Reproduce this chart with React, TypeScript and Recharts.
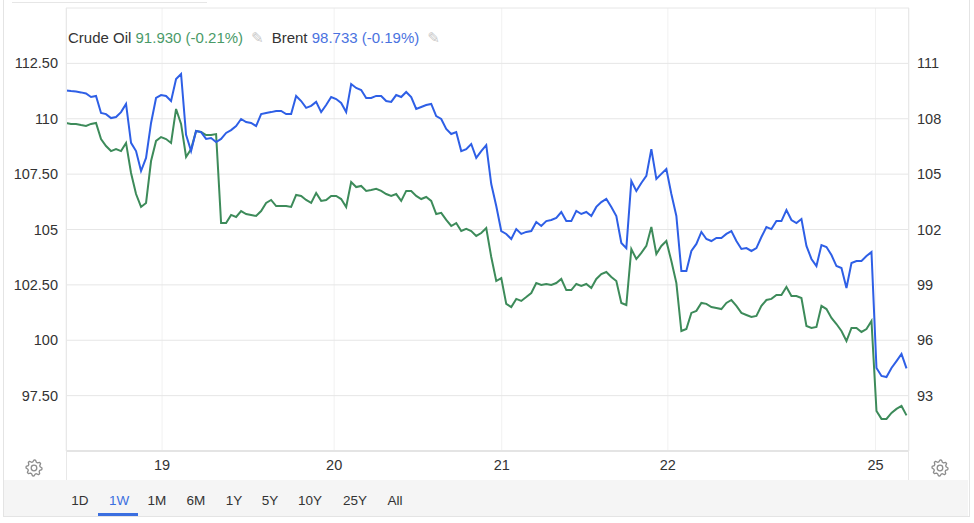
import { LineChart, Line, XAxis, YAxis, CartesianGrid } from "recharts";

// Brent (left axis) and Crude Oil (right axis), one value per ~42 min step
const brent = [
  111.28, 111.25, 111.23, 111.19, 111.14, 110.98, 111.03, 110.26, 110.21, 110.03,
  110.08, 110.3, 110.67, 108.91, 108.54, 107.64, 108.23, 109.81, 110.94, 111.07,
  111.03, 110.8, 111.79, 112.02, 109.27, 108.54, 109.45, 109.4, 109.09, 109.13,
  108.95, 109.09, 109.36, 109.49, 109.67, 109.99, 109.85, 109.81, 109.67, 110.21,
  110.26, 110.3, 110.35, 110.35, 110.21, 110.21, 111.03, 110.8, 110.49, 110.58,
  110.76, 110.3, 110.62, 110.98, 110.89, 110.71, 110.3, 111.57, 111.39, 111.3,
  110.94, 110.94, 111.03, 111.03, 110.8, 110.76, 111.07, 110.98, 111.21, 110.98,
  110.44, 110.53, 110.62, 110.67, 110.12, 109.99, 109.54, 109.31, 109.4, 108.54,
  108.63, 108.86, 108.23, 108.54, 108.81, 107.05, 106.06, 104.93, 104.8, 104.57,
  105.02, 104.8, 104.89, 104.93, 105.34, 105.16, 105.38, 105.43, 105.52, 105.79,
  105.38, 105.38, 105.84, 105.7, 105.79, 105.61, 106.02, 106.24, 106.38, 106.02,
  105.61, 104.39, 104.16, 107.19, 106.74, 107.1, 107.42, 108.63, 107.28, 107.51,
  107.73, 106.6, 105.61, 103.13, 103.13, 104.03, 104.35, 104.89, 104.57, 104.48,
  104.62, 104.62, 104.8, 104.93, 104.48, 104.12, 104.16, 104.03, 104.16, 104.66,
  105.11, 105.02, 105.38, 105.38, 105.88, 105.43, 105.29, 105.47, 104.26, 103.67,
  103.35, 104.3, 104.21, 103.85, 103.35, 103.26, 102.36, 103.49, 103.58, 103.58,
  103.8, 103.98, 98.75, 98.39, 98.34, 98.75, 99.06, 99.38, 98.73,
];

const crude = [
  107.77, 107.72, 107.72, 107.66, 107.61, 107.72, 107.77, 106.9, 106.52, 106.25,
  106.36, 106.25, 106.69, 105.06, 103.92, 103.22, 103.44, 105.71, 106.8, 107.01,
  106.9, 106.69, 108.53, 107.72, 105.93, 106.36, 107.34, 107.28, 107.12, 107.12,
  107.17, 102.35, 102.35, 102.79, 102.68, 103.0, 102.84, 102.79, 102.73, 103.0,
  103.44, 103.6, 103.27, 103.27, 103.27, 103.22, 103.87, 103.82, 103.6, 103.44,
  103.98, 103.55, 103.6, 103.82, 103.82, 103.65, 103.22, 104.57, 104.3, 104.36,
  104.09, 104.14, 104.2, 104.09, 103.92, 103.82, 103.92, 103.55, 104.09, 104.09,
  103.82, 103.65, 103.76, 103.55, 102.84, 102.9, 102.52, 102.19, 102.35, 101.92,
  102.03, 101.92, 101.65, 101.81, 102.08, 100.51, 99.21, 99.37, 97.97, 97.8,
  98.24, 98.13, 98.34, 98.56, 99.1, 99.0, 99.05, 99.0, 99.1, 99.32,
  98.72, 98.72, 99.05, 98.94, 99.05, 98.83, 99.32, 99.59, 99.7, 99.43,
  99.21, 98.02, 97.91, 100.94, 100.4, 100.73, 101.11, 102.14, 100.67, 101.11,
  101.38, 100.29, 99.1, 96.5, 96.61, 97.48, 97.59, 98.02, 97.97, 97.8,
  97.75, 97.69, 98.02, 98.18, 97.86, 97.48, 97.37, 97.26, 97.32, 97.86,
  98.18, 98.24, 98.45, 98.45, 98.89, 98.4, 98.4, 98.29, 96.77, 96.67,
  96.72, 97.86, 97.69, 97.21, 96.88, 96.5, 95.96, 96.67, 96.67, 96.45,
  96.61, 97.04, 92.17, 91.74, 91.74, 92.06, 92.28, 92.44, 91.93,
];

// day boundaries (in steps) and their labels
const dayTicks = [19.2, 53.6, 87.1, 120.3, 161.8];
const dayLabels = ["19", "20", "21", "22", "25"];
const brentTicks = [97.5, 100, 102.5, 105, 107.5, 110, 112.5];
const crudeTicks = [93, 96, 99, 102, 105, 108, 111];
const ranges = ["1D", "1W", "1M", "6M", "1Y", "5Y", "10Y", "25Y", "All"];
const rangeX = [80, 119, 157, 196, 234, 270, 310, 355, 395];

const BLUE = "#2e5fe6";
const GREEN = "#3d8b5a";
const FONT = "'Liberation Sans', Arial, sans-serif";

const data = brent.map((b, i) => ({ i, brent: b, crude: crude[i] }));

function fmtLeft(v: number) {
  return Number.isInteger(v) ? String(v) : v.toFixed(2);
}

function LeftTick({ y, payload }: any) {
  return (
    <text x={58} y={y} textAnchor="end" dominantBaseline="central" fontSize={14.5} fill="#333" fontFamily={FONT}>
      {fmtLeft(payload.value)}
    </text>
  );
}

function RightTick({ y, payload }: any) {
  return (
    <text x={917} y={y} textAnchor="start" dominantBaseline="central" fontSize={14.5} fill="#333" fontFamily={FONT}>
      {payload.value}
    </text>
  );
}

function DayTick({ x, payload }: any) {
  const idx = dayTicks.indexOf(payload.value);
  return (
    <text x={x} y={465} textAnchor="middle" dominantBaseline="central" fontSize={14.5} fill="#333" fontFamily={FONT}>
      {dayLabels[idx] ?? ""}
    </text>
  );
}

function Gear({ left, top }: { left: number; top: number }) {
  const pts: string[] = [];
  for (let k = 0; k < 32; k++) {
    const a = (k / 32) * Math.PI * 2;
    const r = k % 4 < 2 ? 8 : 6.2;
    pts.push(`${(9 + r * Math.cos(a)).toFixed(2)},${(9 + r * Math.sin(a)).toFixed(2)}`);
  }
  return (
    <svg width={18} height={18} style={{ position: "absolute", left: left - 9, top: top - 9 }}>
      <polygon points={pts.join(" ")} fill="none" stroke="#8c8c8c" strokeWidth={1.3} strokeLinejoin="round" />
      <circle cx={9} cy={9} r={2.8} fill="none" stroke="#8c8c8c" strokeWidth={1.3} />
    </svg>
  );
}

export default function App() {
  return (
    <div style={{ position: "absolute", left: 0, top: 0, width: 974, height: 523, background: "#fff", fontFamily: FONT, overflow: "hidden" }}>
      {/* frame */}
      <div style={{ position: "absolute", left: 3, top: 0, width: 965, height: 516, borderLeft: "1px solid #e4e4e4", borderRight: "1px solid #e4e4e4", borderBottom: "1px solid #e4e4e4" }} />
      <div style={{ position: "absolute", left: 12, top: 2, width: 195, height: 1, background: "#e6e6e6" }} />
      <div style={{ position: "absolute", left: 4, top: 480, width: 964, height: 36, background: "#f5f5f5" }} />

      <div style={{ position: "absolute", left: 0, top: 0 }}>
        <LineChart width={974} height={480} data={data} margin={{ top: 8, right: 5, bottom: 0, left: 6 }}>
          <CartesianGrid yAxisId="left" horizontal={false} stroke="#f1f1f1" />
          <CartesianGrid yAxisId="left" vertical={false} stroke="#e6e6e6" />
          <XAxis
            dataKey="i"
            type="number"
            domain={[0, 168.5]}
            ticks={dayTicks}
            tick={<DayTick />}
            tickLine={false}
            axisLine={{ stroke: "#e4e4e4", strokeWidth: 2 }}
            height={29}
            allowDataOverflow
          />
          <YAxis yAxisId="left" orientation="left" domain={[95, 115]} ticks={brentTicks} width={60} axisLine={false} tickLine={false} tick={<LeftTick />} />
          <YAxis yAxisId="right" orientation="right" domain={[90, 114]} ticks={crudeTicks} width={60} axisLine={false} tickLine={false} tick={<RightTick />} />
          <Line yAxisId="right" type="linear" dataKey="crude" stroke={GREEN} strokeWidth={2} dot={false} isAnimationActive={false} />
          <Line yAxisId="left" type="linear" dataKey="brent" stroke={BLUE} strokeWidth={2} dot={false} isAnimationActive={false} />
        </LineChart>
      </div>

      {/* plot side borders reaching into the axis band */}
      <div style={{ position: "absolute", left: 66, top: 8, width: 1, height: 472, background: "#e8e8e8" }} />
      <div style={{ position: "absolute", left: 908, top: 8, width: 1, height: 472, background: "#e8e8e8" }} />

      {/* legend */}
      <div style={{ position: "absolute", left: 68, top: 29, fontSize: 15, lineHeight: "18px", whiteSpace: "nowrap", color: "#333" }}>
        <span>Crude Oil </span>
        <span style={{ color: "#4a9a68" }}>91.930 (-0.21%)</span>
        <span style={{ color: "#c9c9c9", marginLeft: 8, fontFamily: "'DejaVu Sans'" }}>✎</span>
        <span style={{ marginLeft: 8 }}>Brent </span>
        <span style={{ color: "#4a72e0" }}>98.733 (-0.19%)</span>
        <span style={{ color: "#c9c9c9", marginLeft: 8, fontFamily: "'DejaVu Sans'" }}>✎</span>
      </div>

      <Gear left={34} top={468} />
      <Gear left={940} top={468} />

      {/* range selector */}
      {ranges.map((r, k) => (
        <div
          key={r}
          style={{
            position: "absolute",
            left: rangeX[k] - 20,
            width: 40,
            top: 492,
            textAlign: "center",
            fontSize: 13.5,
            lineHeight: "17px",
            color: r === "1W" ? "#3b6fe0" : "#333",
          }}
        >
          {r}
        </div>
      ))}
      <div style={{ position: "absolute", left: 98, top: 513, width: 40, height: 3, background: "#3b6fe0" }} />
    </div>
  );
}
